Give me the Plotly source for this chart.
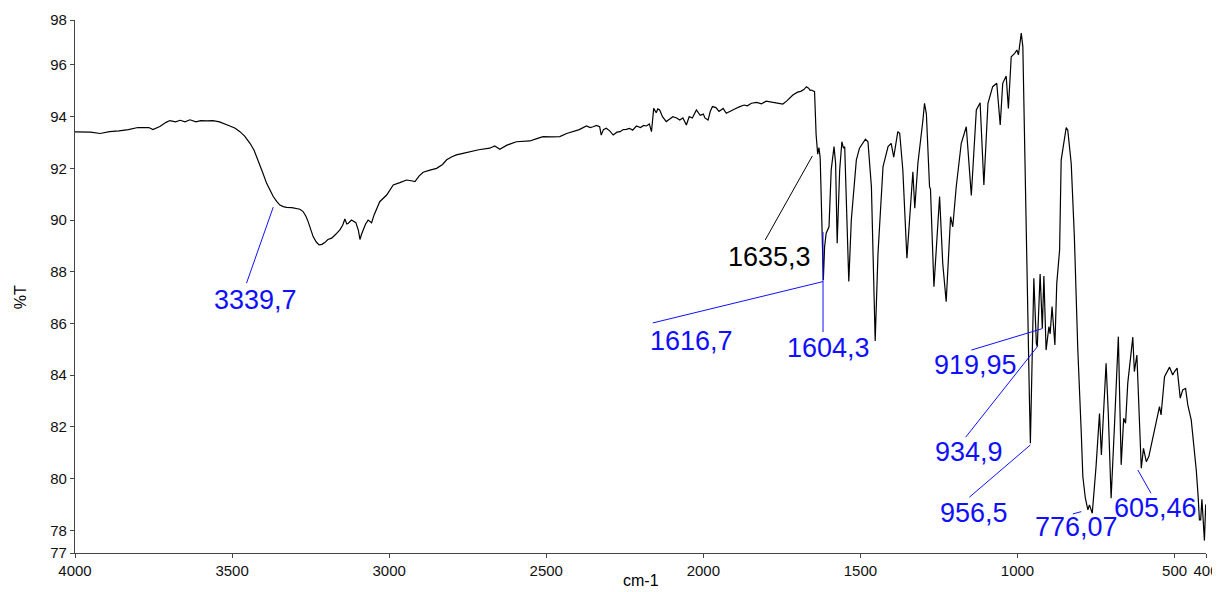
import plotly.graph_objects as go

# ---------------- data ----------------
wavenumber = [
    4000, 3950, 3920, 3890, 3860, 3830, 3800, 3784, 3765, 3752,
    3730, 3710, 3698, 3680, 3665, 3650, 3634, 3615, 3600, 3580,
    3561, 3540, 3520, 3507, 3490, 3475, 3460, 3443, 3430, 3417,
    3403, 3390, 3380, 3369, 3358, 3348, 3337, 3327, 3310, 3295,
    3284, 3274, 3265, 3258, 3250, 3242, 3232, 3223, 3214, 3205,
    3195, 3183, 3170, 3157, 3148, 3141, 3135, 3130, 3120, 3112,
    3106, 3098, 3093, 3088, 3083, 3075, 3067, 3060, 3056, 3048,
    3040, 3030, 3008, 2987, 2966, 2945, 2930, 2918, 2905, 2892,
    2870, 2849, 2830, 2817, 2800, 2786, 2765, 2743, 2715, 2680,
    2664, 2648, 2625, 2595, 2575, 2552, 2530, 2510, 2485, 2457,
    2435, 2415, 2395, 2372, 2360, 2351, 2340, 2330, 2325, 2318,
    2309, 2298, 2287, 2275, 2265, 2255, 2245, 2235, 2225, 2213,
    2200, 2190, 2181, 2172, 2165, 2158, 2150, 2145, 2139, 2130,
    2118, 2108, 2097, 2085, 2075, 2065, 2054, 2045, 2035, 2022,
    2010, 2000, 1995, 1985, 1978, 1971, 1960, 1950, 1937, 1927,
    1915, 1900, 1884, 1870, 1860, 1847, 1830, 1815, 1800, 1789,
    1775, 1760, 1747, 1735, 1725, 1715, 1700, 1690, 1680, 1672,
    1665, 1660, 1656, 1650, 1646, 1641, 1636, 1632, 1628, 1618,
    1614, 1609, 1600, 1593, 1584, 1579, 1574, 1566, 1559, 1554,
    1550, 1537, 1529, 1513, 1503, 1484, 1476, 1465, 1453, 1444,
    1428, 1412, 1402, 1394, 1381, 1375, 1365, 1352, 1341, 1333,
    1327, 1317, 1301, 1296, 1290, 1280, 1277, 1266, 1248, 1238,
    1227, 1213, 1206, 1195, 1179, 1163, 1147, 1131, 1119, 1107,
    1094, 1079, 1066, 1055, 1047, 1036, 1029, 1020, 1009, 1002,
    997, 988, 983, 975, 967, 962, 959, 954, 948, 940,
    937, 928, 921, 916, 909, 900, 896, 890, 881, 875,
    866, 861, 847, 845, 840, 829, 819, 808, 797, 792,
    784, 776, 771, 762, 750, 739, 733, 718, 711, 702,
    691, 679, 670, 662, 656, 649, 633, 628, 620, 606,
    599, 590, 582, 564, 555, 548, 543, 532, 516, 506,
    500, 492, 482, 474, 465, 458, 447, 440, 431, 425,
    421, 417, 413, 409, 405, 401,
]

transmittance = [
    93.41, 93.40, 93.35, 93.42, 93.45, 93.50, 93.58, 93.57, 93.58, 93.50,
    93.62, 93.78, 93.85, 93.80, 93.86, 93.80, 93.88, 93.80, 93.85, 93.84,
    93.85, 93.80, 93.72, 93.64, 93.55, 93.42, 93.25, 92.97, 92.70, 92.32,
    91.85, 91.42, 91.15, 90.91, 90.72, 90.58, 90.52, 90.49, 90.48, 90.46,
    90.42, 90.33, 90.15, 89.94, 89.62, 89.36, 89.15, 89.04, 89.06, 89.13,
    89.25, 89.30, 89.45, 89.62, 89.80, 90.04, 89.85, 89.88, 90.00, 89.95,
    89.90, 89.60, 89.25, 89.45, 89.62, 89.85, 90.00, 89.92, 89.90, 90.20,
    90.46, 90.71, 90.97, 91.36, 91.45, 91.55, 91.52, 91.49, 91.70, 91.85,
    91.93, 92.00, 92.15, 92.33, 92.45, 92.52, 92.58, 92.65, 92.72, 92.78,
    92.87, 92.74, 92.90, 93.03, 93.05, 93.06, 93.15, 93.23, 93.22, 93.23,
    93.35, 93.42, 93.50, 93.64, 93.58, 93.61, 93.66, 93.61, 93.29, 93.50,
    93.55, 93.45, 93.29, 93.40, 93.42, 93.50, 93.51, 93.55, 93.48, 93.64,
    93.58, 93.66, 93.64, 93.72, 93.42, 94.32, 94.15, 94.30, 94.26, 94.00,
    93.81, 93.90, 94.00, 93.95, 93.87, 93.95, 93.68, 94.00, 93.95, 94.26,
    94.05, 94.10, 93.95, 93.87, 94.20, 94.39, 94.35, 94.20, 94.32, 94.13,
    94.22, 94.30, 94.39, 94.45, 94.42, 94.52, 94.55, 94.50, 94.60, 94.58,
    94.55, 94.52, 94.49, 94.60, 94.72, 94.84, 94.95, 94.98, 95.05, 95.16,
    95.10, 95.02, 95.03, 95.00, 94.97, 93.30, 92.55, 92.80, 92.40, 87.68,
    88.97, 89.49, 89.74, 91.94, 92.84, 92.20, 89.10, 91.94, 93.03, 92.78,
    92.84, 87.62, 90.00, 92.32, 92.78, 93.13, 93.03, 91.29, 85.32, 88.72,
    92.07, 92.84, 92.97, 92.43, 93.42, 93.36, 91.94, 88.52, 90.26, 91.87,
    90.46, 92.20, 93.87, 94.52, 94.10, 91.29, 91.20, 87.42, 90.91, 88.33,
    86.84, 90.13, 89.74, 91.29, 92.97, 93.61, 90.95, 94.26, 94.54, 91.36,
    94.52, 95.16, 95.29, 93.68, 95.29, 95.57, 94.32, 96.32, 96.45, 96.58,
    96.39, 97.23, 96.71, 91.29, 84.85, 83.04, 81.37, 84.97, 87.75, 85.23,
    85.10, 87.91, 85.81, 87.84, 84.97, 85.88, 85.60, 86.65, 85.17, 87.55,
    88.84, 92.32, 93.55, 93.58, 93.48, 92.19, 89.36, 84.97, 81.75, 80.07,
    79.24, 78.79, 78.98, 78.66, 80.46, 82.52, 80.91, 84.46, 82.53, 79.24,
    82.14, 85.49, 80.53, 82.33, 82.14, 83.69, 85.47, 84.14, 84.78, 80.40,
    81.17, 80.65, 80.85, 81.88, 82.40, 82.78, 82.46, 83.94, 84.31, 84.01,
    84.14, 84.27, 83.11, 83.43, 83.49, 82.85, 82.27, 81.49, 80.33, 79.30,
    78.40, 78.40, 79.20, 78.40, 77.60, 79.00,
]

# x tick labels
x_ticks = [4000, 3500, 3000, 2500, 2000, 1500, 1000, 500, 400]
# y axis: end values are labelled with the rounded limits
y_range = [77.12, 97.74]
y_ticks = [77.12, 78, 80, 82, 84, 86, 88, 90, 92, 94, 96, 97.74]
y_tick_text = ["77", "78", "80", "82", "84", "86", "88", "90", "92", "94", "96", "98"]

# peak annotations
peak_labels = ["3339,7", "1635,3", "1616,7", "1604,3", "919,95",
               "934,9", "956,5", "776,07", "605,46"]
peak_colors = ["#1010ff", "#000000", "#1010ff", "#1010ff", "#1010ff",
               "#1010ff", "#1010ff", "#1010ff", "#1010ff"]
leader_start_wn = [3369, 1653, 1619, 1619, 921, 937, 959, 797, 617]
leader_start_t = [90.50, 92.48, 87.62, 89.54, 85.80, 85.10, 81.30, 78.72, 80.33]
leader_end_wn = [3454, 1803, 2161, 1619, 1147, 1165, 1153, 824, 575]
leader_end_t = [87.56, 89.23, 86.02, 85.67, 84.97, 81.60, 79.28, 78.63, 79.43]
label_wn = [3427, 1789, 2037, 1601, 1134, 1153, 1140, 812, 561]
label_t = [86.91, 88.57, 85.32, 85.05, 84.39, 81.03, 78.67, 78.13, 78.86]

FONT = "Liberation Sans, Arial, sans-serif"

fig = go.Figure()
fig.add_trace(go.Scatter(
    x=wavenumber, y=transmittance, mode="lines",
    line=dict(color="#000000", width=1.2),
    hoverinfo="x+y", showlegend=False,
))

shapes = []
annotations = []
for i, lab in enumerate(peak_labels):
    shapes.append(dict(
        type="line", xref="x", yref="y",
        x0=leader_start_wn[i], y0=leader_start_t[i],
        x1=leader_end_wn[i], y1=leader_end_t[i],
        line=dict(color=peak_colors[i], width=1),
    ))
    annotations.append(dict(
        x=label_wn[i], y=label_t[i], xref="x", yref="y",
        text=lab, showarrow=False, xanchor="center", yanchor="middle",
        font=dict(family=FONT, size=27, color=peak_colors[i]),
    ))

# axis titles
annotations.append(dict(
    x=0.5, y=0, xref="paper", yref="paper", text="cm-1", showarrow=False,
    xanchor="center", yanchor="middle", yshift=-27,
    font=dict(family=FONT, size=16, color="#000000"),
))
annotations.append(dict(
    x=0, y=0.48, xref="paper", yref="paper", text="%T", showarrow=False,
    xanchor="center", yanchor="middle", xshift=-55, textangle=-90,
    font=dict(family=FONT, size=16, color="#000000"),
))

# the page body adds an 8px margin, so the figure is sized/placed to compensate
fig.update_layout(
    width=1212, height=584, autosize=False,
    margin=dict(l=67, r=14, t=12, b=39),
    paper_bgcolor="white", plot_bgcolor="white",
    font=dict(family=FONT, size=15, color="#111111"),
    shapes=shapes, annotations=annotations,
    showlegend=False,
)
fig.update_xaxes(
    range=[4000, 400], tickvals=x_ticks, ticktext=[str(v) for v in x_ticks],
    showline=True, linecolor="#444444", linewidth=1.2,
    ticks="outside", ticklen=4, tickcolor="#444444",
    showgrid=False, zeroline=False, automargin=False,
    tickfont=dict(family=FONT, size=15, color="#111111"),
)
fig.update_yaxes(
    range=y_range, tickvals=y_ticks, ticktext=y_tick_text,
    showline=True, linecolor="#444444", linewidth=1.2,
    ticks="outside", ticklen=4, tickcolor="#444444",
    showgrid=False, zeroline=False, automargin=False,
    tickfont=dict(family=FONT, size=15, color="#111111"),
)

fig.write_html("out.html")
